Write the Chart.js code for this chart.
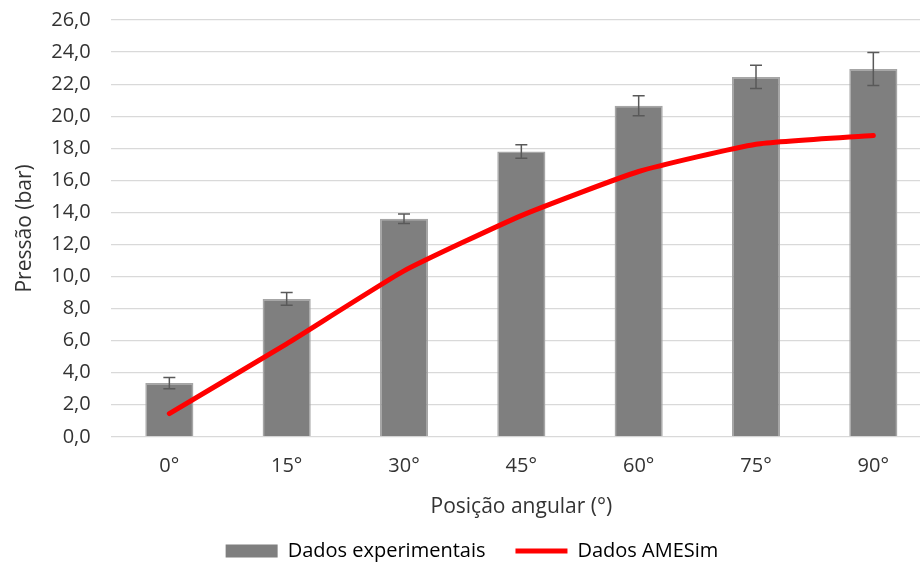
<!DOCTYPE html>
<html lang="pt">
<head>
<meta charset="utf-8">
<title>Pressão x posição angular</title>
<script src="https://cdn.jsdelivr.net/npm/chart.js@4/dist/chart.umd.min.js"></script>
<style>
  html, body { margin: 0; padding: 0; background: #fff; overflow: hidden; }
  #wrap { width: 936px; height: 576px; margin-top: -12px; position: relative; }
</style>
</head>
<body>
<div id="wrap"><canvas id="grafico"></canvas></div>
<script>
// dados
const posicoes = ['0°', '15°', '30°', '45°', '60°', '75°', '90°'];
const experimentais = [3.35, 8.6, 13.6, 17.8, 20.65, 22.45, 22.95];
const desvios = [0.35, 0.4, 0.3, 0.42, 0.62, 0.72, 1.03];
const amesim = [1.45, 5.8, 10.35, 13.8, 16.55, 18.25, 18.8];

const fonte = '"Open Sans", sans-serif';
const corTexto = '#333333';

// barras de erro desenhadas sobre as barras
const barrasErro = {
  id: 'barrasErro',
  afterDatasetDraw(chart, args) {
    if (args.index !== 0) return;
    const ctx = chart.ctx;
    const y = chart.scales.y;
    const meta = chart.getDatasetMeta(0);
    ctx.save();
    ctx.strokeStyle = '#595959';
    ctx.lineWidth = 1.5;
    meta.data.forEach((bar, i) => {
      const yTop = y.getPixelForValue(experimentais[i] + desvios[i]);
      const yBot = y.getPixelForValue(experimentais[i] - desvios[i]);
      const x = bar.x;
      ctx.beginPath();
      ctx.moveTo(x, yTop); ctx.lineTo(x, yBot);
      ctx.moveTo(x - 6, yTop); ctx.lineTo(x + 6, yTop);
      ctx.moveTo(x - 6, yBot); ctx.lineTo(x + 6, yBot);
      ctx.stroke();
    });
    ctx.restore();
  }
};

new Chart(document.getElementById('grafico'), {
  data: {
    labels: posicoes,
    datasets: [{
      type: 'bar',
      label: 'Dados experimentais',
      data: experimentais,
      backgroundColor: '#7f7f7f',
      borderColor: '#a6a6a6',
      borderWidth: 1.5,
      categoryPercentage: 1,
      barPercentage: 0.41,
      order: 2
    }, {
      type: 'line',
      label: 'Dados AMESim',
      data: amesim,
      borderColor: '#ff0000',
      backgroundColor: '#ff0000',
      borderWidth: 5,
      pointRadius: 0,
      tension: 0.15,
      borderCapStyle: 'round',
      order: 1
    }]
  },
  options: {
    responsive: true,
    maintainAspectRatio: false,
    animation: false,
    layout: { padding: { top: 0, left: 12, right: 4, bottom: -7 } },
    plugins: {
      tooltip: { enabled: false },
      legend: {
        position: 'bottom',
        labels: {
          usePointStyle: true,
          pointStyleWidth: 52,
          boxHeight: 13,
          padding: 30,
          color: corTexto,
          font: { family: fonte, size: 20 },
          sort: (a, b) => a.datasetIndex - b.datasetIndex,
          generateLabels(chart) {
            return chart.data.datasets.map((d, i) => ({
              text: d.label,
              datasetIndex: i,
              pointStyle: d.type === 'line' ? 'line' : 'rect',
              fillStyle: d.type === 'line' ? '#ff0000' : '#7f7f7f',
              strokeStyle: d.type === 'line' ? '#ff0000' : '#7f7f7f',
              lineWidth: d.type === 'line' ? 5 : 0,
              hidden: false
            }));
          }
        }
      }
    },
    scales: {
      x: {
        grid: { display: false, drawTicks: false },
        border: { display: false },
        ticks: { color: corTexto, font: { family: fonte, size: 20 }, padding: 17 },
        title: { display: true, text: 'Posição angular (°)', color: corTexto, font: { family: fonte, size: 21 }, padding: { top: 0, bottom: -9 } }
      },
      y: {
        min: 0,
        max: 26,
        grid: { color: '#d9d9d9', lineWidth: 1.2, drawTicks: false },
        border: { display: false },
        ticks: {
          stepSize: 2,
          padding: 20,
          color: corTexto,
          font: { family: fonte, size: 20 },
          callback: v => v.toFixed(1).replace('.', ',')
        },
        title: { display: true, text: 'Pressão (bar)', color: corTexto, font: { family: fonte, size: 21 }, padding: { top: 0, bottom: -6 } }
      }
    }
  },
  plugins: [barrasErro]
});
</script>
</body>
</html>
